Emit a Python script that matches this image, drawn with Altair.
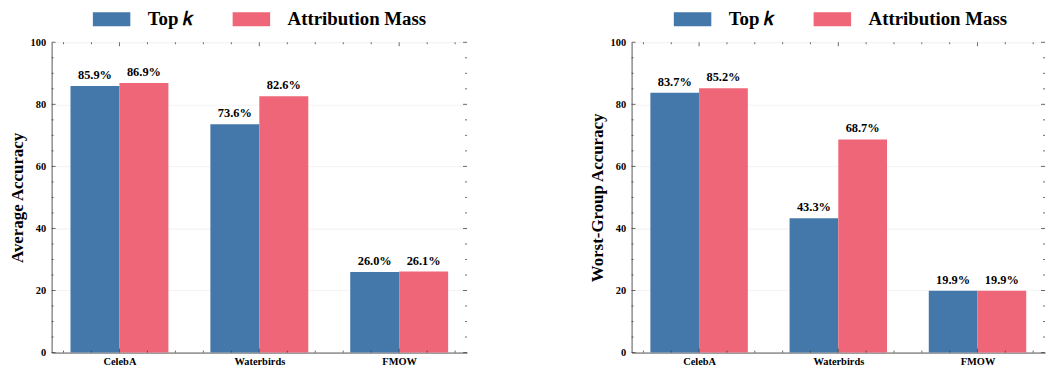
import altair as alt
import pandas as pd

# ---- data ----
datasets = ["CelebA", "Waterbirds", "FMOW"]
methods = ["Top 𝑘", "Attribution Mass"]
avg_topk = [85.9, 73.6, 26.0]
avg_mass = [86.9, 82.6, 26.1]
wg_topk = [83.7, 43.3, 19.9]
wg_mass = [85.2, 68.7, 19.9]
y_major = [0, 20, 40, 60, 80, 100]
y_minor = [v for v in range(5, 100, 5) if v % 20 != 0]
x_major = [0, 1, 2]
x_minor = [round(-0.4 + 0.2 * i, 1) for i in range(15) if round(-0.4 + 0.2 * i, 1) not in (0.0, 1.0, 2.0)]

BLUE = "#4477AA"
RED = "#EE6677"
TICK = "#444444"
FONT = "Liberation Serif"
LEGEND_FONT = "Liberation Serif, DejaVu Serif, serif"
H = 313
BARW = 0.35

label_expr = "[" + ",".join("'%s'" % d for d in datasets) + "][datum.value]"
XSCALE = alt.Scale(domain=[-0.485, 2.485], nice=False, zero=False)
YSCALE = alt.Scale(domain=[0, 100], nice=False)
XAXIS = alt.Axis(values=x_major, labelExpr=label_expr, grid=False, ticks=False,
                 labelPadding=4, labelFontSize=10.5)
YAXIS = alt.Axis(values=y_major, grid=True, ticks=False, labelPadding=6,
                 labelFontSize=10.5, titleFontSize=17, titlePadding=4)


def tick_layers(xpos, ypos, length, ytitle, W):
    layers = []
    dx = pd.DataFrame({"p": xpos})
    dy = pd.DataFrame({"p": ypos})
    bx = alt.Chart(dx).mark_rule(color=TICK, strokeWidth=0.8)
    by = alt.Chart(dy).mark_rule(color=TICK, strokeWidth=0.8)
    xq = alt.X("p:Q", scale=XSCALE, axis=XAXIS, title=None)
    yq = alt.Y("p:Q", scale=YSCALE, axis=YAXIS, title=ytitle)
    layers.append(bx.encode(x=xq, y=alt.value(H), y2=alt.value(H - length)))
    layers.append(bx.encode(x=xq, y=alt.value(0), y2=alt.value(length)))
    layers.append(by.encode(y=yq, x=alt.value(0), x2=alt.value(length)))
    layers.append(by.encode(y=yq, x=alt.value(W), x2=alt.value(W - length)))
    return layers


def panel(topk, mass, ytitle, W, legend_x):
    df = pd.DataFrame({
        "idx": list(range(len(datasets))) * 2,
        "method": [methods[0]] * len(datasets) + [methods[1]] * len(datasets),
        "side": [-1] * len(datasets) + [1] * len(datasets),
        "value": topk + mass,
    })
    base = alt.Chart(df).transform_calculate(
        x0="datum.side < 0 ? datum.idx - %f : datum.idx" % BARW,
        x1="datum.side < 0 ? datum.idx : datum.idx + %f" % BARW,
        xc="datum.idx + datum.side * %f" % (BARW / 2),
        label="format(datum.value, '.1f') + '%'",
    )
    bars = base.mark_rect().encode(
        x=alt.X("x0:Q", scale=XSCALE, axis=XAXIS, title=None),
        x2="x1:Q",
        y=alt.Y("value:Q", scale=YSCALE, axis=YAXIS, title=ytitle),
        y2=alt.datum(0),
        color=alt.Color("method:N", scale=alt.Scale(domain=methods, range=[BLUE, RED]),
                        legend=alt.Legend(title=None, orient="none", direction="horizontal",
                                          legendX=legend_x, legendY=-33,
                                          symbolType="M-2.7,-1H2.7V1H-2.7Z", symbolSize=196,
                                          symbolStrokeWidth=0, symbolOpacity=1,
                                          labelFontSize=19, labelFontWeight="bold",
                                          labelFont=LEGEND_FONT, labelOffset=27, columnPadding=39,
                                          labelLimit=400, padding=0)),
    )
    texts = base.mark_text(font=FONT, fontWeight="bold", fontSize=12.5,
                           baseline="alphabetic", dy=-7, color="black").encode(
        x=alt.X("xc:Q", scale=XSCALE, axis=XAXIS, title=None),
        y=alt.Y("value:Q", scale=YSCALE, axis=YAXIS, title=ytitle),
        text="label:N")
    ticks = (tick_layers(x_major, y_major, 4, ytitle, W)
             + tick_layers(x_minor, y_minor, 2, ytitle, W))
    return alt.layer(bars, texts, *ticks).properties(width=W, height=H)


left = panel(avg_topk, avg_mass, "Average Accuracy", 419, 51)
right = panel(wg_topk, wg_mass, "Worst-Group Accuracy", 417, 52)

chart = alt.hconcat(left, right, spacing=121).resolve_scale(color="independent").resolve_legend(
    color="independent"
).properties(padding=0).configure(font=FONT, padding=0).configure_view(stroke=None).configure_axis(
    labelFont=FONT, titleFont=FONT, labelFontWeight="bold", titleFontWeight="bold",
    labelColor="black", titleColor="black", domainColor="#555555", domainWidth=1,
    gridColor="#eeeeee", gridWidth=0.8,
)

chart.save("out.html", embed_options={"renderer": "svg", "actions": False})
